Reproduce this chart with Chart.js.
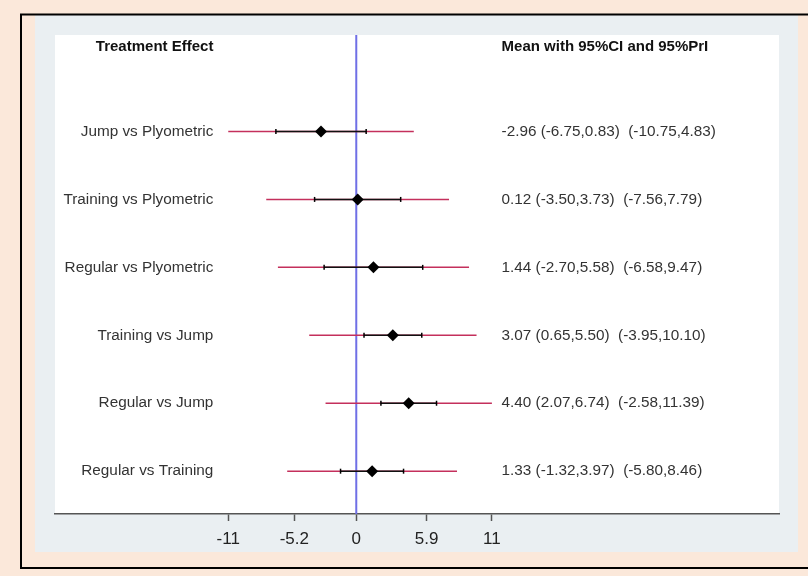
<!DOCTYPE html>
<html lang="en">
<head>
  <meta charset="UTF-8">
  <title>Treatment Effect forest plot</title>
  <script src="https://cdn.jsdelivr.net/npm/chart.js"></script>
  <style>
    body { margin: 0; background: #fbe8da; }
    #wrap { width: 808px; height: 576px; }
  </style>
</head>
<body>
<div id="wrap"><canvas id="myChart" width="808" height="576"></canvas></div>
<script>
  // comparisons, top to bottom
  const comparisons = ["Jump vs Plyometric", "Training vs Plyometric", "Regular vs Plyometric",
                       "Training vs Jump", "Regular vs Jump", "Regular vs Training"];
  const means = [-2.96, 0.12, 1.44, 3.07, 4.40, 1.33];
  const ciLow = [-6.75, -3.50, -2.70, 0.65, 2.07, -1.32];
  const ciHigh = [0.83, 3.73, 5.58, 5.50, 6.74, 3.97];
  const priLow = [-10.75, -7.56, -6.58, -3.95, -2.58, -5.80];
  const priHigh = [4.83, 7.79, 9.47, 10.10, 11.39, 8.46];
  const tickValues = [-10.75, -5.2, 0, 5.9, 11.39];
  const tickLabels = ["-11", "-5.2", "0", "5.9", "11"];

  const fmt = v => v.toFixed(2);
  const rowText = means.map((m, i) =>
    `${fmt(m)} (${fmt(ciLow[i])},${fmt(ciHigh[i])})  (${fmt(priLow[i])},${fmt(priHigh[i])})`);

  const X_MIN = -25.3, X_MAX = 35.5;
  const Y_MIN = -1.42, Y_MAX = 5.63;

  // segments separated by gaps
  function segments(lo, hi) {
    const out = [];
    lo.forEach((v, i) => {
      out.push({ x: v, y: i }, { x: hi[i], y: i }, { x: null, y: null });
    });
    return out;
  }
  const caps = ciLow.flatMap((v, i) => [{ x: v, y: i }, { x: ciHigh[i], y: i }]);

  // background panels, borders and the text columns
  const panelPlugin = {
    id: 'panels',
    beforeDraw(chart) {
      const ctx = chart.ctx, a = chart.chartArea;
      ctx.save();
      ctx.fillStyle = '#fbe8da';
      ctx.fillRect(0, 0, 808, 576);
      ctx.fillStyle = '#eaeff2';
      ctx.fillRect(35, 15, 763, 537);
      ctx.fillStyle = '#ffffff';
      ctx.fillRect(a.left, a.top, a.right - a.left, a.bottom - a.top);
      ctx.strokeStyle = '#000';
      ctx.lineWidth = 2;
      ctx.beginPath();
      ctx.moveTo(808, 14.5); ctx.lineTo(21, 14.5); ctx.lineTo(21, 568); ctx.lineTo(808, 568);
      ctx.stroke();
      ctx.restore();
    },
    afterDatasetsDraw(chart) {
      const ctx = chart.ctx, xs = chart.scales.x, ys = chart.scales.y;
      const leftX = xs.getPixelForValue(-12.0), rightX = xs.getPixelForValue(12.2);
      ctx.save();
      ctx.textBaseline = 'middle';
      ctx.fillStyle = '#111';
      ctx.font = 'bold 15px "Liberation Sans", Arial, sans-serif';
      ctx.textAlign = 'right';
      ctx.fillText('Treatment Effect', leftX, ys.getPixelForValue(-1.25));
      ctx.textAlign = 'left';
      ctx.fillText('Mean with 95%CI and 95%PrI', rightX, ys.getPixelForValue(-1.25));
      ctx.fillStyle = '#333';
      ctx.font = '15.3px "Liberation Sans", Arial, sans-serif';
      comparisons.forEach((c, i) => {
        const y = ys.getPixelForValue(i);
        ctx.textAlign = 'right';
        ctx.fillText(c, leftX, y);
        ctx.textAlign = 'left';
        ctx.fillText(rowText[i], rightX, y);
      });
      ctx.restore();
    }
  };

  const ctx = document.getElementById('myChart').getContext('2d');
  new Chart(ctx, {
    type: 'line',
    data: {
      datasets: [
        {
          label: 'Mean',
          type: 'scatter',
          data: means.map((m, i) => ({ x: m, y: i })),
          pointStyle: 'rectRot',
          pointRadius: 6,
          backgroundColor: '#000',
          borderColor: '#000',
          borderWidth: 0,
          order: 0
        },
        {
          label: 'CI caps',
          type: 'scatter',
          data: caps,
          pointStyle: 'line',
          rotation: 90,
          pointRadius: 2.5,
          borderColor: '#000',
          borderWidth: 1.5,
          order: 1
        },
        {
          label: '95% CI',
          data: segments(ciLow, ciHigh),
          borderColor: '#111',
          borderWidth: 1.5,
          pointRadius: 0,
          spanGaps: false,
          order: 2
        },
        {
          label: '95% PrI',
          data: segments(priLow, priHigh),
          borderColor: '#c4305c',
          borderWidth: 1.5,
          pointRadius: 0,
          spanGaps: false,
          order: 3
        },
        {
          label: 'No effect',
          data: [{ x: 0, y: Y_MIN }, { x: 0, y: Y_MAX }],
          borderColor: '#6f6fe6',
          borderWidth: 2,
          pointRadius: 0,
          order: 4
        }
      ]
    },
    options: {
      responsive: false,
      animation: false,
      layout: { padding: { left: 55, right: 29, top: 35, bottom: 22 } },
      plugins: { legend: { display: false }, tooltip: { enabled: false } },
      scales: {
        x: {
          type: 'linear',
          min: X_MIN,
          max: X_MAX,
          afterBuildTicks: scale => { scale.ticks = tickValues.map(v => ({ value: v })); },
          afterFit: scale => { scale.height = 40; },
          ticks: {
            autoSkip: false,
            maxRotation: 0,
            padding: 8,
            color: '#222',
            font: { family: '"Liberation Sans", Arial, sans-serif', size: 17 },
            callback: (v, i) => tickLabels[i]
          },
          grid: { drawOnChartArea: false, drawTicks: true, tickLength: 7, color: '#555', tickWidth: 1.5 },
          border: { display: true, color: '#555', width: 1.5 }
        },
        y: {
          type: 'linear',
          reverse: true,
          min: Y_MIN,
          max: Y_MAX,
          display: false
        }
      }
    },
    plugins: [panelPlugin]
  });
</script>
</body>
</html>
